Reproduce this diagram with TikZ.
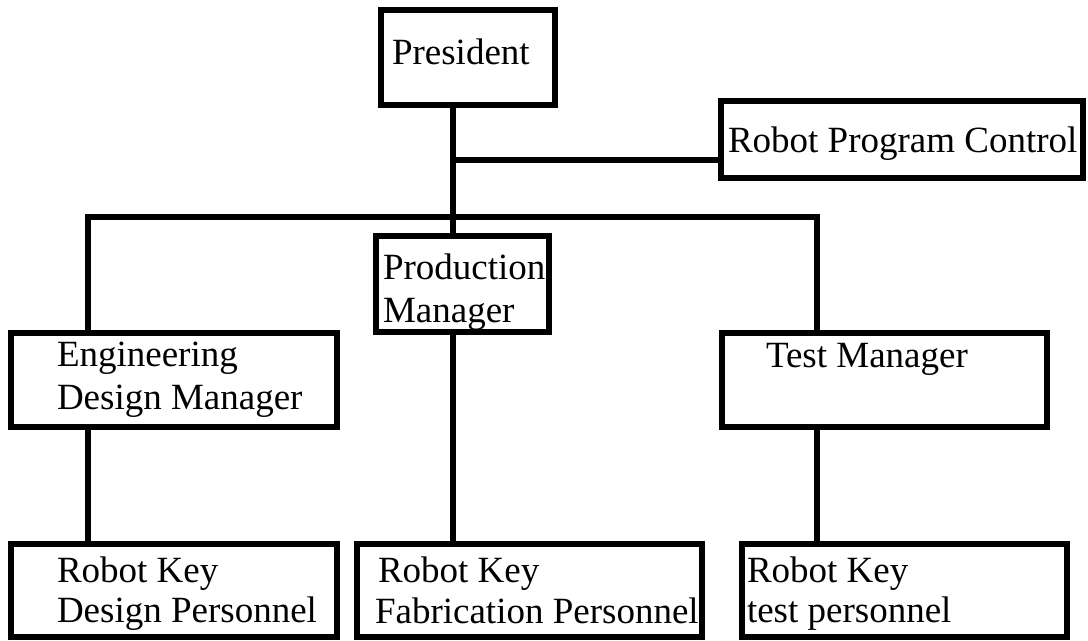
\documentclass[tikz,border=0pt]{standalone}
\usepackage{fontspec}
\setmainfont{Liberation Serif}
\begin{document}
\begin{tikzpicture}[x=0.5pt,y=-0.5pt,
  box/.style={draw=black, line width=2.9pt, fill=white, inner sep=0pt, outer sep=0pt},
  lbl/.style={inner sep=0pt, outer sep=0pt, anchor=base west, font=\fontsize{18.5pt}{21.5pt}\selectfont},
  conn/.style={draw=black, line width=2.9pt}]
\useasboundingbox (0,0) rectangle (1088,641);
\fill[white] (0,0) rectangle (1088,641);
% junction coordinates
\coordinate (trunk) at (453,217);
\coordinate (j1) at (453,160);
\coordinate (lft) at (88,217);
\coordinate (rgt) at (817,217);
% boxes
\node[box, minimum width=87pt, minimum height=47.5pt] (pres) at (468,57.5) {};
\node[box, minimum width=181pt, minimum height=38.5pt] (rpc) at (902,139.5) {};
\node[box, minimum width=86.5pt, minimum height=48pt] (prod) at (462.5,284) {};
\node[box, minimum width=163pt, minimum height=47pt] (eng) at (174,380) {};
\node[box, minimum width=162.5pt, minimum height=47pt] (test) at (884.5,380) {};
\node[box, minimum width=163pt, minimum height=46.5pt] (kdes) at (174,590.5) {};
\node[box, minimum width=172.5pt, minimum height=46.5pt] (kfab) at (529.5,590.5) {};
\node[box, minimum width=162.5pt, minimum height=46.5pt] (ktest) at (904.5,590.5) {};
% connectors
\draw[conn] (pres.south -| trunk) -- (prod.north -| trunk);
\draw[conn] (j1) -- (j1 -| rpc.west);
\draw[conn] (eng.north -| lft) -- (lft) -- (rgt) -- (test.north -| rgt);
\draw[conn] (eng.south -| lft) -- (kdes.north -| lft);
\draw[conn] (prod.south -| trunk) -- (kfab.north -| trunk);
\draw[conn] (test.south -| rgt) -- (ktest.north -| rgt);
% labels
\node[lbl] (tpres) at (392,65) {President};
\node[lbl] (trpc) at (728,153) {Robot Program Control};
\node[lbl] (tprod1) at (383,280) {Production};
\node[lbl] (tprod2) at (383,323) {Manager};
\node[lbl] (teng1) at (57,367) {Engineering};
\node[lbl] (teng2) at (57,410) {Design Manager};
\node[lbl] (ttest) at (766,368) {Test Manager};
\node[lbl] (tkdes1) at (57,583) {Robot Key};
\node[lbl] (tkdes2) at (57,623) {Design Personnel};
\node[lbl] (tkfab1) at (378,583) {Robot Key};
\node[lbl] (tkfab2) at (375,624) {Fabrication Personnel};
\node[lbl] (tktest1) at (747,583) {Robot Key};
\node[lbl] (tktest2) at (747,623) {test personnel};
\end{tikzpicture}
\end{document}
